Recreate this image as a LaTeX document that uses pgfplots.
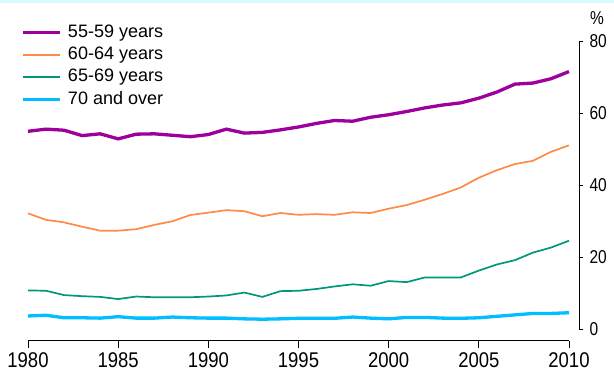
\documentclass[border=0pt]{standalone}
\usepackage{pgfplots}
\pgfplotsset{compat=1.18}
\usepackage{fontspec}
\setmainfont{Liberation Sans}
\definecolor{cPurple}{RGB}{158,0,158}
\definecolor{cOrange}{RGB}{255,138,72}
\definecolor{cGreen}{RGB}{0,152,120}
\definecolor{cCyan}{RGB}{0,190,255}
\definecolor{cBand}{RGB}{215,250,250}
\newcommand{\chartfont}{\fontsize{18}{21.6}\selectfont}
\newcommand{\xfont}{\fontsize{18.5}{22}\selectfont}
\newcommand{\yfont}{\fontsize{15.5}{18.6}\selectfont}
\begin{document}
\begin{tikzpicture}[x=1pt,y=1pt]
\path[use as bounding box] (0,0) rectangle (614,373);
\fill[cBand] (0,370) rectangle (614,373);
\begin{axis}[
  at={(28pt,32.3pt)}, anchor=south west, scale only axis,
  width=541pt, height=299.4pt,
  xmin=1980, xmax=2010, ymin=-3.17, ymax=80,
  axis x line*=bottom, axis y line=none,
  axis line style={line width=0.9pt, black},
  xtick={1980,1985,...,2010},
  tick align=outside, major tick length=7pt,
  xtick style={line width=0.9pt, black},
  x tick label style={/pgf/number format/1000 sep={}, /pgf/number format/assume math mode=true, font=\xfont, anchor=north, yscale=1.15, yshift=-2pt, inner sep=2pt},
  clip=false,
  legend style={at={(axis description cs:0,1)}, anchor=north west, xshift=-7pt, yshift=20pt,
    draw=none, fill=none, font=\chartfont, row sep=0.4pt, inner sep=0pt,
    nodes={inner sep=2.5pt, text height=13pt, text depth=4pt}},
  legend cell align=left,
  legend image code/.code={\draw[#1] (0pt,0pt) -- (37pt,0pt); \path (41pt,0pt);},
]
\addplot[cPurple, line width=3.3pt] coordinates {
(1980,55.0) (1981,55.6) (1982,55.3) (1983,53.8) (1984,54.3) (1985,52.9) (1986,54.2) (1987,54.3) (1988,53.9) (1989,53.5) (1990,54.1) (1991,55.6) (1992,54.5) (1993,54.7) (1994,55.4) (1995,56.2) (1996,57.2) (1997,58.0) (1998,57.8) (1999,58.9) (2000,59.6) (2001,60.5) (2002,61.5) (2003,62.3) (2004,62.9) (2005,64.2) (2006,65.9) (2007,68.1) (2008,68.4) (2009,69.6) (2010,71.6)};
\addlegendentry{55-59 years}
\addplot[cOrange, line width=1.7pt] coordinates {
(1980,32.2) (1981,30.4) (1982,29.7) (1983,28.5) (1984,27.4) (1985,27.4) (1986,27.8) (1987,29.0) (1988,30.0) (1989,31.75) (1990,32.4) (1991,33.1) (1992,32.8) (1993,31.4) (1994,32.3) (1995,31.8) (1996,32.0) (1997,31.8) (1998,32.5) (1999,32.3) (2000,33.5) (2001,34.5) (2002,36.0) (2003,37.6) (2004,39.4) (2005,42.1) (2006,44.2) (2007,45.9) (2008,46.8) (2009,49.3) (2010,51.1)};
\addlegendentry{60-64 years}
\addplot[cGreen, line width=1.7pt] coordinates {
(1980,10.8) (1981,10.7) (1982,9.5) (1983,9.2) (1984,9.0) (1985,8.4) (1986,9.1) (1987,8.9) (1988,8.9) (1989,8.9) (1990,9.1) (1991,9.4) (1992,10.2) (1993,9.0) (1994,10.6) (1995,10.7) (1996,11.2) (1997,11.9) (1998,12.5) (1999,12.1) (2000,13.4) (2001,13.1) (2002,14.4) (2003,14.4) (2004,14.4) (2005,16.3) (2006,18.0) (2007,19.2) (2008,21.3) (2009,22.7) (2010,24.6)};
\addlegendentry{65-69 years}
\addplot[cCyan, line width=3.3pt] coordinates {
(1980,3.7) (1981,3.9) (1982,3.2) (1983,3.2) (1984,3.1) (1985,3.5) (1986,3.1) (1987,3.1) (1988,3.4) (1989,3.2) (1990,3.1) (1991,3.1) (1992,2.9) (1993,2.8) (1994,2.9) (1995,3.05) (1996,3.05) (1997,3.05) (1998,3.4) (1999,3.1) (2000,2.9) (2001,3.3) (2002,3.3) (2003,3.1) (2004,3.05) (2005,3.2) (2006,3.6) (2007,4.0) (2008,4.4) (2009,4.4) (2010,4.6)};
\addlegendentry{70 and over}
\end{axis}
\begin{axis}[
  at={(569pt,43.7pt)}, anchor=south west, scale only axis,
  width=10pt, height=288pt,
  xmin=0, xmax=1, ymin=0, ymax=80,
  axis y line*=right, axis x line=none,
  axis line style={line width=0.9pt, black},
  ytick={0,20,...,80},
  tick align=outside, major tick length=4pt,
  ytick style={line width=0.9pt, black},
  y tick label style={/pgf/number format/assume math mode=true, font=\yfont, anchor=west, yscale=1.2, xshift=3pt},
]
\end{axis}
\node[font=\yfont, yscale=1.2] at (597,355) {\%};
\end{tikzpicture}
\end{document}
